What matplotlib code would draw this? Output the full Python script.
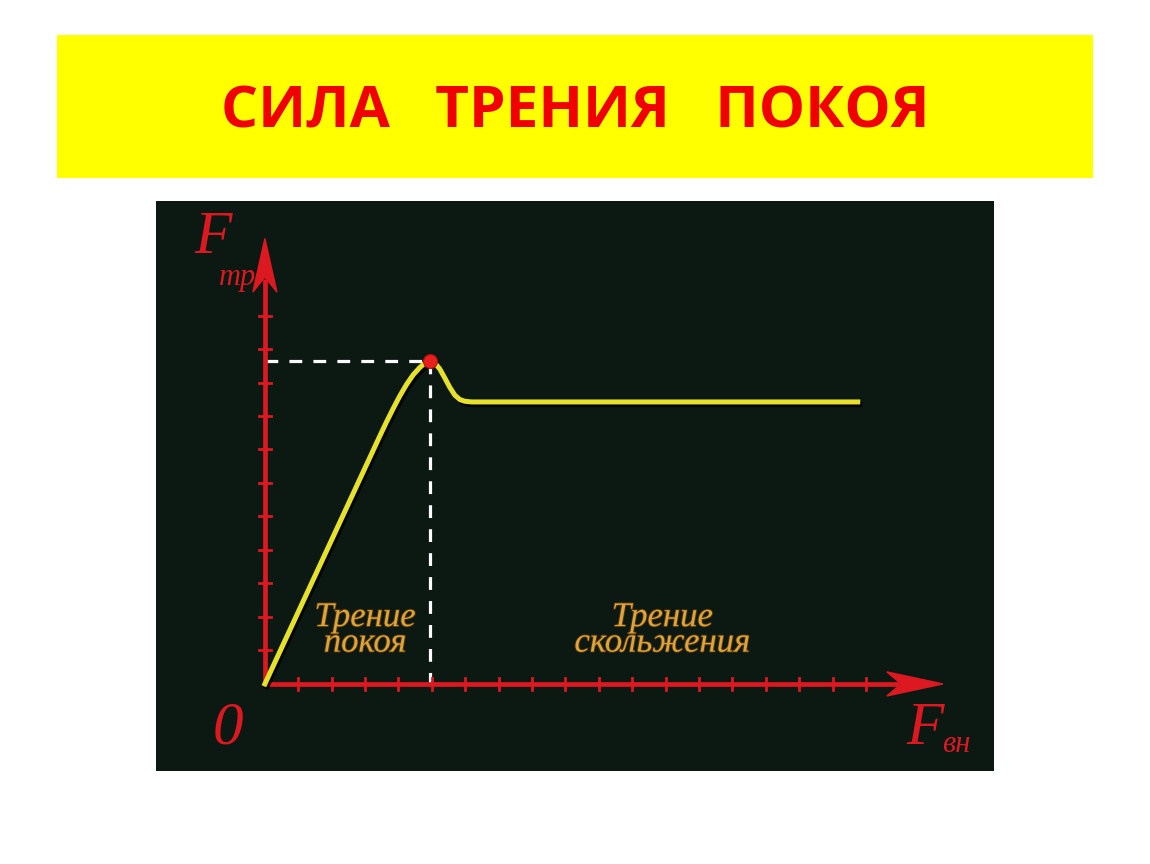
import matplotlib
matplotlib.use("Agg")
import matplotlib.pyplot as plt
import matplotlib.patheffects as pe
from matplotlib.patches import Rectangle, Polygon

# friction curve, in tick units
curve_x = [0, 3.44, 3.64, 3.84, 4.04, 4.24, 4.44, 4.64, 4.79, 4.94, 5.09,
           5.24, 5.39, 5.54, 5.69, 5.84, 5.99, 6.19, 17.75]
curve_y = [0, 7.40, 7.82, 8.22, 8.60, 8.94, 9.23, 9.45, 9.58, 9.64, 9.58,
           9.40, 9.13, 8.85, 8.62, 8.49, 8.44, 8.42, 8.42]
peak_x = 4.94
peak_y = 9.64

x_ticks = list(range(1, 19))
y_ticks = list(range(1, 12))

title = "СИЛА   ТРЕНИЯ   ПОКОЯ"
label_static = "Трение\nпокоя"
label_sliding = "Трение\nскольжения"

RED = "#dc1820"
GOLD = "#dca43a"
BG = "#0c1913"

fig = plt.figure(figsize=(11.5, 8.64), dpi=100)
fig.patch.set_facecolor("white")

# yellow banner with title
fig.patches.append(Rectangle((57 / 1150, 1 - 178 / 864), 1036 / 1150, 143 / 864,
                             transform=fig.transFigure, facecolor="#ffff00",
                             edgecolor="none", zorder=0))
fig.text(0.5, 1 - 113 / 864, title, ha="center", va="center",
         fontsize=42, fontweight="bold", family="Open Sans", color="#f00000")

# dark panel
ax = fig.add_axes([156 / 1150, 1 - 771 / 864, 838 / 1150, 570 / 864])
ax.set_facecolor(BG)
ax.set_xlim(-3.26, 21.83)
ax.set_ylim(-2.60, 14.42)
ax.set_xticks([])
ax.set_yticks([])
for s in ax.spines.values():
    s.set_visible(False)

# axes with ticks
ax.plot([0, 19.0], [0, 0], color=RED, lw=3.4, solid_capstyle="butt", zorder=3)
ax.plot([0, 0], [0, 12.1], color=RED, lw=3.4, solid_capstyle="butt", zorder=3)
tw_x = 0.18
tw_y = 0.18
for t in x_ticks:
    ax.plot([t, t], [-tw_y, tw_y], color=RED, lw=2, zorder=3)
for t in y_ticks:
    ax.plot([-tw_x, tw_x], [t, t], color=RED, lw=2, zorder=3)

# arrow heads
ax.add_patch(Polygon([[20.3, 0], [18.62, 0.36], [19.05, 0], [18.62, -0.36]],
                     closed=True, facecolor=RED, edgecolor=RED, lw=1, zorder=4))
ax.add_patch(Polygon([[0, 13.3], [0.36, 11.7], [0, 12.15], [-0.36, 11.7]],
                     closed=True, facecolor=RED, edgecolor=RED, lw=1, zorder=4))

# dashed guides to the peak
ax.plot([0, peak_x], [peak_y, peak_y], color="white", lw=2.3,
        dashes=(4, 3.5), zorder=2)
ax.plot([peak_x, peak_x], [peak_y, 0], color="white", lw=2.3,
        dashes=(4, 3.5), zorder=2)

# the curve
ax.plot(curve_x, curve_y, color="#e6e22c", lw=3.6, solid_joinstyle="round",
        zorder=5,
        path_effects=[pe.SimpleLineShadow(offset=(1.5, -2), shadow_color="black",
                                          alpha=0.8), pe.Normal()])
ax.plot([peak_x], [peak_y], "o", color="#e8201c", ms=10, mec="#b01010",
        mew=0.8, zorder=6)

# region labels
serif = "Liberation Serif"
outline = [pe.withStroke(linewidth=1.2, foreground="#5a3808")]
ax.text(3.0, 1.6, label_static, ha="center", va="center", fontsize=25,
        style="italic", family=serif, color=GOLD, linespacing=0.7, zorder=5,
        path_effects=outline)
ax.text(11.9, 1.6, label_sliding, ha="center", va="center", fontsize=25,
        style="italic", family=serif, color=GOLD, linespacing=0.7, zorder=5,
        path_effects=outline)

# axis names (F glyph and its subscript placed separately)
ax.text(-1.55, 13.3, "F", ha="center", va="center", fontsize=44,
        style="italic", family=serif, color=RED)
ax.text(-0.82, 12.15, "тр", ha="center", va="center", fontsize=22,
        style="italic", family=serif, color=RED)
ax.text(-1.1, -1.35, "0", ha="center", va="center", fontsize=44,
        style="italic", family=serif, color=RED)
ax.text(19.75, -1.35, "F", ha="center", va="center", fontsize=44,
        style="italic", family=serif, color=RED)
ax.text(20.7, -1.8, "вн", ha="center", va="center", fontsize=22,
        style="italic", family=serif, color=RED)

fig.savefig("out.png", dpi=100, facecolor=fig.get_facecolor())
